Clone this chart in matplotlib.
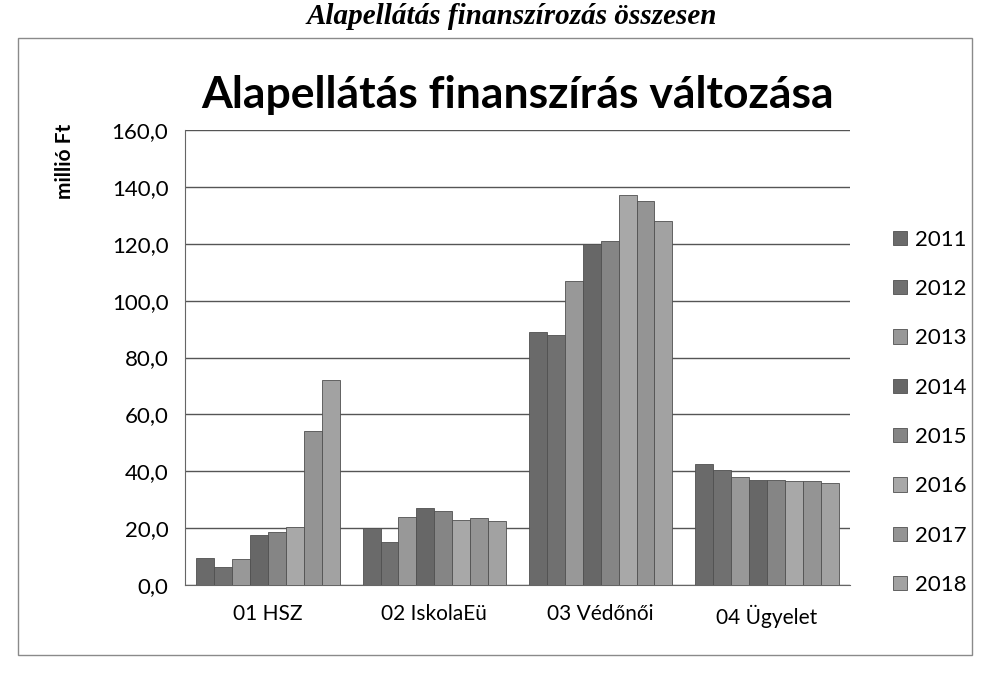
import matplotlib.pyplot as plt
import numpy as np
from matplotlib.patches import Rectangle
from matplotlib.ticker import FuncFormatter

# Alapellátás finanszírozás - millió Ft, évenként

categories = ["01 HSZ", "02 IskolaEü", "03 Védőnői", "04 Ügyelet"]
years = ["2011", "2012", "2013", "2014", "2015", "2016", "2017", "2018"]

v_2011 = [9.5, 20.0, 89.0, 42.5]
v_2012 = [6.5, 15.0, 88.0, 40.5]
v_2013 = [9.2, 24.0, 107.0, 38.0]
v_2014 = [17.5, 27.0, 120.0, 37.0]
v_2015 = [18.7, 26.0, 121.0, 37.0]
v_2016 = [20.5, 23.0, 137.0, 36.5]
v_2017 = [54.0, 23.5, 135.0, 36.5]
v_2018 = [72.0, 22.5, 128.0, 36.0]

colors = ["#6a6a6a", "#707070", "#989898", "#676767", "#858585", "#a8a8a8", "#949494", "#a2a2a2"]

series = [v_2011, v_2012, v_2013, v_2014, v_2015, v_2016, v_2017, v_2018]

plt.rcParams['font.family'] = ['Lato', 'DejaVu Sans']

fig = plt.figure(figsize=(9.85, 6.76), dpi=100)
fig.patch.set_facecolor("white")

# frame of the chart
fig.patches.append(Rectangle((18 / 985, 1 - 655 / 676), 954 / 985, 617 / 676,
                             transform=fig.transFigure, fill=False,
                             edgecolor="#8a8a8a", linewidth=1.0))

fig.text(0.52, 0.996, "Alapellátás finanszírozás összesen", ha="center", va="top",
         family="Liberation Serif", style="italic", weight="bold", fontsize=21)

ax = fig.add_axes([185 / 985, 1 - 585 / 676, 665 / 985, 455 / 676])

x = np.arange(len(categories))
width = 0.108
for i, (vals, c) in enumerate(zip(series, colors)):
    ax.bar(x + (i - 3.5) * width, vals, width, color=c, edgecolor="#505050",
           linewidth=0.6, label=years[i], zorder=3)

ax.set_ylim(0, 160)
ax.set_xlim(-0.5, 3.5)
ax.set_yticks(np.arange(0, 161, 20))
ax.yaxis.set_major_formatter(FuncFormatter(lambda v, p: f"{v:.1f}".replace(".", ",")))
ax.set_xticks(x)
ax.set_xticklabels(categories, fontsize=15)
ax.tick_params(axis="y", labelsize=16, length=0, pad=12)
ax.tick_params(axis="x", length=0, pad=14)
ax.grid(axis="y", color="#555555", linewidth=1.0, zorder=0)

for s in ["top", "right"]:
    ax.spines[s].set_visible(False)
ax.spines["left"].set_color("#666666")
ax.spines["bottom"].set_color("#666666")

ax.set_ylabel("millió Ft", fontsize=15, weight="bold")
ax.yaxis.set_label_coords(-0.165, 0.93)

fig.text(0.525, 1 - 95 / 676, "Alapellátás finanszírás változása", ha="center", va="center",
         fontsize=32, weight="bold")

ax.legend(loc="upper left", bbox_to_anchor=(1.035, 0.825), frameon=False, fontsize=16,
          handlelength=0.6, handleheight=0.6, handletextpad=0.4, labelspacing=1.32)

fig.savefig("out.png", dpi=100)
